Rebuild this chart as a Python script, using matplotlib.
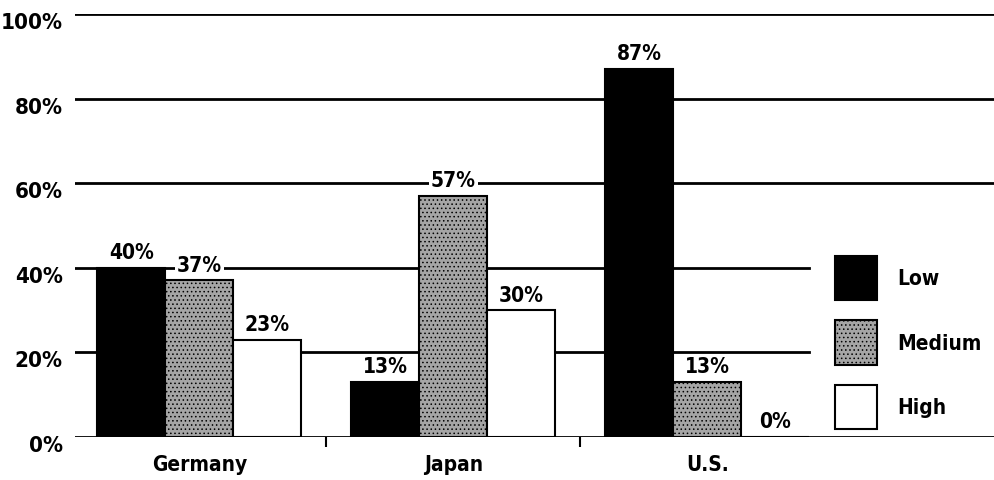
import matplotlib.pyplot as plt
import matplotlib.transforms as mtransforms
import numpy as np

countries = ["Germany", "Japan", "U.S."]
levels = ["Low", "Medium", "High"]
low = [40, 13, 87]
medium = [37, 57, 13]
high = [23, 30, 0]
yticks = [0, 20, 40, 60, 80, 100]

plt.rcParams["font.family"] = ["DejaVu Sans"]
plt.rcParams["font.stretch"] = "condensed"
plt.rcParams["font.weight"] = "bold"
plt.rcParams["hatch.linewidth"] = 0.6

fig = plt.figure(figsize=(9.94, 4.81), dpi=100)
ax = fig.add_axes([0.0755, 0.0894, 0.9245, 0.8795])

x = np.arange(len(countries))
w = 0.268
colors = ["black", "#a5a5a5", "white"]
hatches = [None, "....", None]
bars = []
for i, (vals, c) in enumerate(zip([low, medium, high], colors)):
    b = ax.bar(x + (i - 1) * w, vals, w, color=c, edgecolor="black",
               linewidth=1.5, hatch=hatches[i], zorder=3, label=levels[i])
    bars.append(b)
    for xi, v in zip(x + (i - 1) * w, vals):
        ax.annotate(f"{v}%", (xi, v), xytext=(0, 4), textcoords="offset points",
                    ha="center", va="bottom", fontsize=15, fontweight="bold",
                    zorder=4,
                    bbox=dict(facecolor="white", edgecolor="none", pad=1.5))

# gridlines (the two lower ones stop before the legend)
for y in yticks[1:]:
    xmax = 2.4 if y <= 40 else 3.13
    ax.plot([-0.49, xmax], [y, y], color="black", lw=2, zorder=1)
ax.plot([-0.49, 3.13], [0, 0], color="black", lw=2, zorder=5)

ax.set_xlim(-0.49, 3.13)
ax.set_ylim(0, 100)
ax.set_yticks(yticks)
ax.set_yticklabels([f"{t}%" for t in yticks], fontsize=16, fontweight="bold")
ax.set_xticks(x)
ax.set_xticklabels(countries, fontsize=15, fontweight="bold")
ax.set_xticks([0.5, 1.5], minor=True)
ax.tick_params(axis="x", which="major", length=0, pad=12)
ax.tick_params(axis="x", which="minor", length=7, width=1.5, direction="out")
ax.tick_params(axis="y", length=0, pad=9)
for s in ax.spines.values():
    s.set_visible(False)

# y labels sit a little below their gridlines
shift = mtransforms.ScaledTranslation(0, -6 / 100, fig.dpi_scale_trans)
for lbl in ax.get_yticklabels():
    lbl.set_transform(lbl.get_transform() + shift)

ax.legend(handles=bars, loc="upper left", bbox_to_anchor=(835 / 994, 1 - 257 / 481),
          bbox_transform=fig.transFigure, frameon=False, fontsize=15,
          handlelength=2.0, handleheight=2.9, labelspacing=0.96,
          handletextpad=1.0, borderpad=0, borderaxespad=0)

plt.savefig("out.png", dpi=100)
